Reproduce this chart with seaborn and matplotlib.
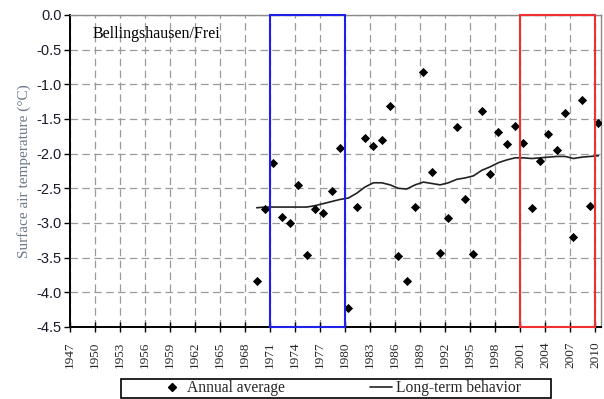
import matplotlib
matplotlib.use("Agg")
import matplotlib.pyplot as plt
import seaborn as sns
import pandas as pd
import numpy as np
from matplotlib.patches import Rectangle
from matplotlib.lines import Line2D

# ---- data ----
years = list(range(1969, 2011))
annual_avg = [-3.83, -2.80, -2.13, -2.92, -3.00, -2.45, -3.46, -2.80, -2.86, -2.54,
              -1.92, -4.22, -2.77, -1.78, -1.89, -1.81, -1.31, -3.48, -3.84, -2.77,
              -0.82, -2.26, -3.43, -2.93, -1.62, -2.66, -3.45, -1.39, -2.30, -1.69,
              -1.86, -1.60, -1.85, -2.79, -2.10, -1.71, -1.95, -1.41, -3.20, -1.22,
              -2.76, -1.56]
long_term = [-2.78, -2.77, -2.77, -2.77, -2.77, -2.77, -2.77, -2.75, -2.72, -2.69,
             -2.66, -2.64, -2.57, -2.48, -2.42, -2.42, -2.45, -2.50, -2.51, -2.45,
             -2.41, -2.43, -2.45, -2.42, -2.37, -2.35, -2.32, -2.24, -2.19, -2.13,
             -2.09, -2.06, -2.06, -2.07, -2.06, -2.05, -2.04, -2.04, -2.07, -2.05,
             -2.04, -2.03]
tick_years = list(range(1947, 2011, 3))
y_ticks = [0.0, -0.5, -1.0, -1.5, -2.0, -2.5, -3.0, -3.5, -4.0, -4.5]
blue_period = (1971, 1980)
red_period = (2001, 2010)
station = "Bellingshausen/Frei"
ylabel = "Surface air temperature (°C)"
legend_labels = ["Annual average", "Long-term behavior"]

# ---- style ----
sns.set_theme(style="white")
plt.rcParams['font.family'] = ['Liberation Serif', 'DejaVu Serif']
plt.rcParams['axes.unicode_minus'] = False

fig = plt.figure(figsize=(6.04, 3.99), dpi=100)
ax = fig.add_axes([70/604, 1-327/399, (601-70)/604, (327-15)/399])

offset = 0.4  # annual values plotted mid-year
df = pd.DataFrame({"x": np.array(years) + offset, "avg": annual_avg, "trend": long_term})

sns.lineplot(data=df, x="x", y="trend", ax=ax, color="#222222", lw=1.2, zorder=3)
sns.scatterplot(data=df, x="x", y="avg", ax=ax, marker="D", s=22, color="black",
                linewidth=0, zorder=4)

ax.set_xlim(1947, 2010.7)
ax.set_ylim(-4.5, 0.0)
ax.set_xticks(tick_years)
ax.set_xticklabels([str(t) for t in tick_years], rotation=90, fontsize=9.5,
                   family='Liberation Serif')
ax.set_yticks(y_ticks)
ax.set_yticklabels([f"{v:.1f}" for v in y_ticks], fontsize=10.5,
                   family='Liberation Sans', color='#1a1a2a')
ax.set_xlabel("")
ax.set_ylabel(ylabel, fontsize=11, color='#6a7888', labelpad=4)

ax.grid(True, color='#9a9a9a', linestyle=(0, (6, 3.5)), linewidth=0.9)
ax.set_axisbelow(True)

for side in ['left', 'bottom']:
    ax.spines[side].set_color('black')
    ax.spines[side].set_linewidth(1.4)
for side in ['top', 'right']:
    ax.spines[side].set_color('#8a8a8a')
    ax.spines[side].set_linewidth(1.0)

ax.tick_params(axis='x', direction='inout', length=7, width=1, color='black', pad=7)
ax.tick_params(axis='y', direction='out', length=4, width=1, color='black', pad=2,
               left=True)
ax.tick_params(axis='x', bottom=True)

# highlighted periods
ax.add_patch(Rectangle((blue_period[0], -4.5), blue_period[1]-blue_period[0], 4.5,
                       fill=False, ec='#2020e8', lw=1.5, zorder=5, clip_on=False))
ax.add_patch(Rectangle((red_period[0], -4.5), red_period[1]-red_period[0], 4.5,
                       fill=False, ec='#f03030', lw=1.5, zorder=5, clip_on=False))

ax.text(0.043, 0.94, station, transform=ax.transAxes, fontsize=11.5,
        ha='left', va='center', color='black')

# legend
handles = [Line2D([], [], marker='D', color='black', lw=0, markersize=4.5),
           Line2D([], [], color='#222222', lw=1.2)]
fig.legend(handles, legend_labels, loc='center', bbox_to_anchor=(341/604, 1-388/399),
           ncol=2, frameon=False, fontsize=11.2, handlelength=1.4, handletextpad=0.25,
           columnspacing=5.5, borderpad=0)
fig.patches.append(Rectangle((121/604, 1.5/399), 430/604, 18.5/399, transform=fig.transFigure,
                             fill=False, ec='black', lw=1.2))

fig.savefig("out.png", dpi=100)
